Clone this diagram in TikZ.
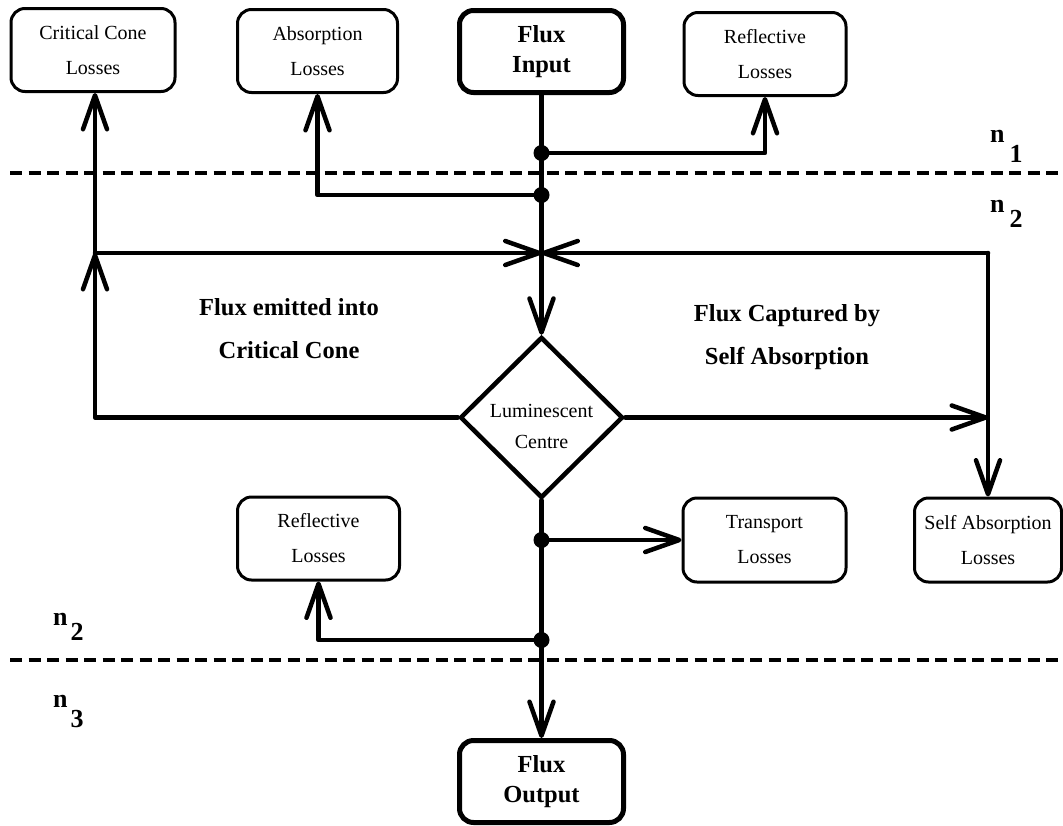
\documentclass[tikz,border=0pt]{standalone}
\usepackage{fontspec}
\setmainfont{Liberation Serif}
\usetikzlibrary{arrows.meta,shapes.geometric}
\begin{document}
\begin{tikzpicture}[x=1pt,y=-1pt,
  conn/.style={line width=4.5pt, line cap=round, line join=round},
  arr/.style={conn, -{Straight Barb[length=34pt,width=24pt,round]}},
  lossbox/.style={draw, line width=3pt, rounded corners=14pt, minimum height=83pt, inner sep=0pt, align=center, font=\fontsize{20}{35}\selectfont},
  fluxbox/.style={draw, line width=5pt, rounded corners=14pt, minimum width=164pt, minimum height=82pt, inner sep=0pt, align=center, font=\bfseries\fontsize{24.5}{30}\selectfont},
  lbl/.style={align=center, inner sep=0pt, font=\bfseries\fontsize{24.5}{43}\selectfont},
  nlbl/.style={anchor=base west, inner sep=0pt, font=\bfseries\fontsize{26}{26}\selectfont},
  dot/.style={circle, fill, inner sep=0pt, minimum size=16pt},
  boundary/.style={line width=3.2pt, dash pattern=on 12pt off 6.5pt}
]
\useasboundingbox (0,0) rectangle (1063,825);

% interface lines
\draw[boundary] (10,173) -- (1063,173);
\draw[boundary] (10,660) -- (1063,660);

% boxes
\node[lossbox, minimum width=164pt] (ccl) at (93,50) {Critical Cone\\Losses};
\node[lossbox, minimum width=160pt] (abs) at (317.5,51) {Absorption\\Losses};
\node[fluxbox] (fin) at (541.5,51.5) {Flux\\Input};
\node[lossbox, minimum width=162pt] (rft) at (765,54) {Reflective\\Losses};

\node[diamond, draw, line width=4.5pt, aspect=1, inner sep=0pt, minimum width=163pt, minimum height=161pt] (dia) at (541.5,417.5) {};
\node[align=center, inner sep=0pt, font=\fontsize{20}{31}\selectfont] (lum) at (541.5,426) {Luminescent\\Centre};

\node[lbl] (lblL) at (289,328.5) {Flux emitted into\\Critical Cone};
\node[lbl] (lblR) at (787,337) {Flux Captured by\\Self Absorption};

\node[lossbox, minimum width=162pt] (rfb) at (318.5,538.5) {Reflective\\Losses};
\node[lossbox, minimum width=163pt, minimum height=84pt] (trl) at (764.5,540) {Transport\\Losses};
\node[lossbox, minimum width=147pt, minimum height=84pt] (sal) at (988,540) {Self Absorption\\Losses};
\node[fluxbox] (fout) at (541.5,781.5) {Flux\\Output};

% refractive index labels
\node[nlbl] (n1) at (990,142) {n\hspace{5pt}\raisebox{-20pt}{1}};
\node[nlbl] (n2a) at (990,212) {n\hspace{5pt}\raisebox{-15pt}{2}};
\node[nlbl] (n2b) at (53,625) {n\hspace{3pt}\raisebox{-15pt}{2}};
\node[nlbl] (n3) at (53,707) {n\hspace{3pt}\raisebox{-20pt}{3}};

% junctions
\node[dot] (d1) at (541.5,153) {};
\node[dot] (d2) at (541.5,195) {};
\node[dot] (d3) at (541.5,540) {};
\node[dot] (d4) at (541.5,640) {};
\coordinate (jl) at (95,253);
\coordinate (jc) at (541.5,253);
\coordinate (jr) at (988,253);
\coordinate (rc) at (988,417.5);

% connectors
\draw[arr] (fin.south) -- (dia.north);
\draw[arr] (d1.center) -| (rft.south);
\draw[arr] (d2.center) -| (abs.south);
\draw[arr] (jl) -- (jc);
\draw[arr] (jr) -- (jc);
\draw[arr] (dia.west) -| (jl);
\draw[arr] (jl) -- (jl |- ccl.south);
\draw[arr] (dia.east) -- (rc);
\draw[arr] (jr) -- (sal.north);
\draw[arr] (dia.south) -- (fout.north);
\draw[arr] (d3.center) -- (trl.west);
\draw[arr] (d4.center) -| (rfb.south);
\end{tikzpicture}
\end{document}
